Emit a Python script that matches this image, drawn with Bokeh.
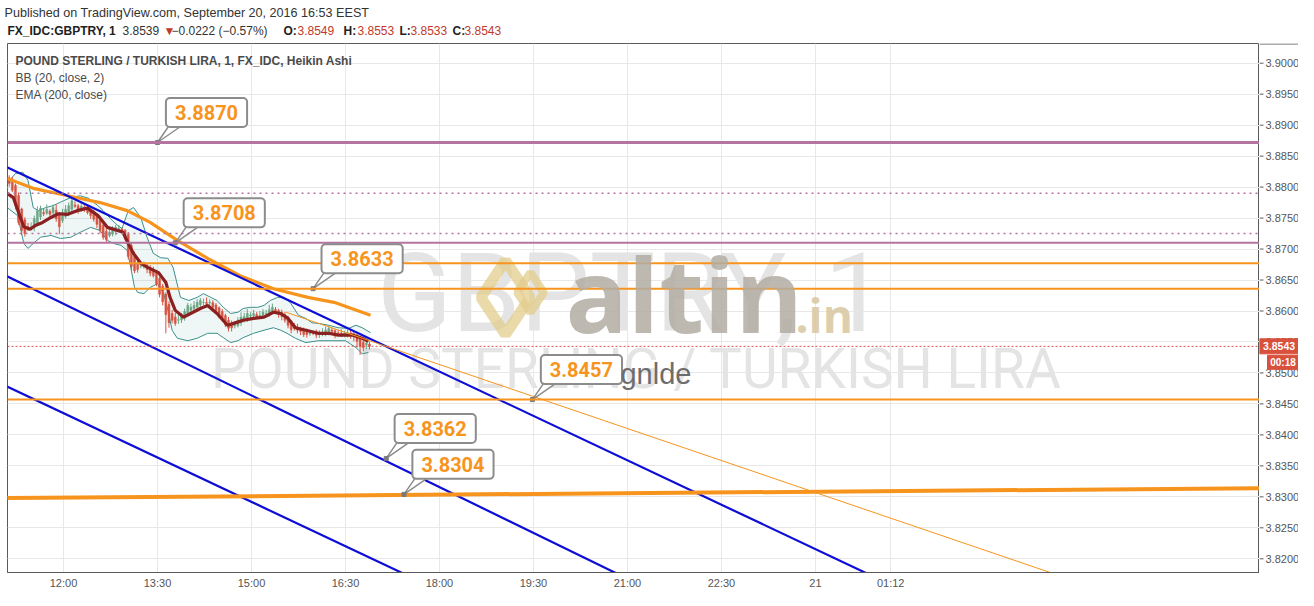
import numpy as np
import pandas as pd
from bokeh.plotting import figure
from bokeh.layouts import column, row
from bokeh.models import (Range1d, FixedTicker, SingleIntervalTicker, Grid, Label, Span)
from bokeh.core.properties import value
from bokeh.embed import file_html
from bokeh.resources import INLINE

DAY0 = pd.Timestamp("2016-09-20 00:00")


def mins(ts):
    return (pd.Timestamp(ts) - DAY0).total_seconds() / 60.0


def hm(s):
    return mins("2016-09-20 " + s)


# ------------------------------------------------------------------ data
candle_start = "2016-09-20 11:08"
candle_step_min = 3
ha_first_open = 3.8815
ha_close = [
    3.8806, 3.8795, 3.8770, 3.8743, 3.8730, 3.8725, 3.8732, 3.8735, 3.8749, 3.8762,
    3.8766, 3.8757, 3.8764, 3.8756, 3.8767, 3.8749, 3.8736, 3.8759, 3.8764, 3.8770,
    3.8778, 3.8769, 3.8762, 3.8769, 3.8764, 3.8759, 3.8754, 3.8748, 3.8740, 3.8730,
    3.8719, 3.8715, 3.8727, 3.8732, 3.8735, 3.8733, 3.8728, 3.8717, 3.8688, 3.8672,
    3.8665, 3.8667, 3.8672, 3.8675, 3.8667, 3.8661, 3.8657, 3.8644, 3.8627, 3.8615,
    3.8594, 3.8581, 3.8585, 3.8580, 3.8586, 3.8591, 3.8599, 3.8609, 3.8606, 3.8609,
    3.8614, 3.8617, 3.8614, 3.8612, 3.8614, 3.8606, 3.8601, 3.8593, 3.8586, 3.8578,
    3.8572, 3.8573, 3.8577, 3.8585, 3.8590, 3.8591, 3.8596, 3.8593, 3.8596, 3.8591,
    3.8593, 3.8598, 3.8596, 3.8602, 3.8606, 3.8599, 3.8594, 3.8591, 3.8585, 3.8577,
    3.8570, 3.8572, 3.8569, 3.8567, 3.8562, 3.8562, 3.8565, 3.8564, 3.8561, 3.8564,
    3.8565, 3.8569, 3.8572, 3.8567, 3.8561, 3.8564, 3.8561, 3.8564, 3.8565, 3.8562,
    3.8559, 3.8551, 3.8543, 3.8541, 3.8548, 3.8543,
]
upper_wick_pips = [
    4, 6, 3, 5, 2, 4, 6, 8, 5, 7,
    4, 6, 8, 3, 5, 9, 4, 6, 7, 5,
    4, 6, 3, 5, 7, 4, 3, 5, 2, 4,
    3, 6, 8, 5, 4, 6, 3, 2, 4, 5,
    7, 4, 6, 5, 3, 4, 6, 2, 3, 4,
    3, 5, 6, 7, 8, 6, 5, 4, 6, 7,
    5, 4, 6, 8, 5, 4, 3, 2, 4, 3,
    5, 6, 7, 5, 8, 6, 7, 5, 6, 4,
    7, 5, 6, 8, 6, 4, 3, 5, 4, 3,
    2, 4, 5, 3, 4, 6, 5, 4, 6, 5,
    7, 6, 5, 4, 3, 5, 6, 4, 5, 6,
    3, 2, 4, 6, 5, 4,
]
lower_wick_pips = [
    5, 3, 6, 4, 7, 5, 3, 4, 6, 3,
    5, 4, 3, 6, 4, 5, 12, 4, 3, 5,
    4, 3, 5, 6, 4, 3, 5, 4, 6, 5,
    4, 5, 3, 4, 6, 5, 4, 3, 5, 6,
    4, 5, 3, 4, 6, 5, 3, 4, 5, 6,
    30, 8, 5, 4, 6, 5, 4, 3, 5, 4,
    6, 5, 4, 3, 5, 6, 4, 5, 3, 4,
    5, 6, 4, 3, 5, 4, 6, 5, 4, 3,
    5, 4, 6, 5, 3, 4, 5, 6, 4, 5,
    6, 4, 5, 6, 4, 5, 4, 3, 5, 6,
    4, 5, 6, 4, 5, 4, 3, 5, 6, 7,
    8, 10, 14, 6, 7, 5,
]

bb_basis_time = ["11:06", "11:12", "11:17", "11:22", "11:28", "11:33", "11:40", "11:48", "11:55", "12:04",
                 "12:13", "12:23", "12:33", "12:42", "12:52", "12:57", "13:02", "13:07", "13:14", "13:21",
                 "13:31", "13:38", "13:42", "13:47", "13:55", "14:04", "14:11", "14:18", "14:27", "14:37",
                 "14:43", "14:52", "15:02", "15:12", "15:21", "15:28", "15:35", "15:42", "15:52", "16:04",
                 "16:14", "16:23", "16:37", "16:46", "16:52"]
bb_basis = [3.8790, 3.8783, 3.8759, 3.8736, 3.8732, 3.8738, 3.8743, 3.8751, 3.8757, 3.8756,
            3.8762, 3.8766, 3.8754, 3.8735, 3.8730, 3.8727, 3.8709, 3.8693, 3.8677, 3.8670,
            3.8662, 3.8646, 3.8622, 3.8601, 3.8590, 3.8598, 3.8604, 3.8609, 3.8596, 3.8577,
            3.8580, 3.8585, 3.8588, 3.8590, 3.8598, 3.8596, 3.8588, 3.8573, 3.8569, 3.8564,
            3.8564, 3.8561, 3.8561, 3.8556, 3.8551]

bb_upper_time = ["11:06", "11:14", "11:21", "11:26", "11:31", "11:36", "11:43", "11:50", "12:00", "12:07",
                 "12:16", "12:24", "12:33", "12:38", "12:45", "12:52", "12:56", "13:02", "13:07", "13:14",
                 "13:20", "13:26", "13:33", "13:40", "13:45", "13:52", "14:00", "14:08", "14:14", "14:21",
                 "14:27", "14:33", "14:40", "14:47", "14:52", "14:59", "15:06", "15:12", "15:18", "15:25",
                 "15:31", "15:37", "15:45", "15:52", "15:58", "16:04", "16:14", "16:23", "16:33", "16:40",
                 "16:46", "16:54"]
bb_upper = [3.8806, 3.8822, 3.8824, 3.8811, 3.8767, 3.8762, 3.8767, 3.8770, 3.8778, 3.8783,
            3.8786, 3.8782, 3.8770, 3.8762, 3.8749, 3.8738, 3.8733, 3.8762, 3.8767, 3.8751,
            3.8719, 3.8693, 3.8686, 3.8685, 3.8670, 3.8622, 3.8617, 3.8622, 3.8628, 3.8622,
            3.8617, 3.8606, 3.8596, 3.8598, 3.8604, 3.8606, 3.8606, 3.8609, 3.8617, 3.8622,
            3.8622, 3.8614, 3.8593, 3.8588, 3.8581, 3.8580, 3.8577, 3.8573, 3.8572, 3.8577,
            3.8573, 3.8565]

bb_lower_time = ["11:06", "11:16", "11:22", "11:26", "11:31", "11:38", "11:48", "11:57", "12:07", "12:16",
                 "12:26", "12:35", "12:42", "12:48", "12:55", "13:01", "13:04", "13:08", "13:11", "13:17",
                 "13:23", "13:30", "13:36", "13:40", "13:44", "13:49", "13:59", "14:08", "14:18", "14:27",
                 "14:33", "14:40", "14:47", "14:52", "15:02", "15:12", "15:21", "15:28", "15:34", "15:42",
                 "15:52", "16:04", "16:18", "16:30", "16:40", "16:46", "16:52"]
bb_lower = [3.8767, 3.8754, 3.8709, 3.8701, 3.8709, 3.8719, 3.8722, 3.8717, 3.8719, 3.8727,
            3.8735, 3.8730, 3.8714, 3.8709, 3.8706, 3.8698, 3.8674, 3.8638, 3.8630, 3.8628,
            3.8638, 3.8644, 3.8628, 3.8601, 3.8569, 3.8556, 3.8552, 3.8556, 3.8564, 3.8564,
            3.8557, 3.8549, 3.8552, 3.8557, 3.8564, 3.8569, 3.8573, 3.8569, 3.8564, 3.8556,
            3.8549, 3.8552, 3.8552, 3.8552, 3.8541, 3.8531, 3.8533]

ema_time = ["11:06", "11:31", "12:04", "12:35", "13:01", "13:23", "13:49", "14:18", "14:49",
            "15:21", "15:54", "16:19", "16:54"]
ema200 = [3.8814, 3.8798, 3.8786, 3.8775, 3.8762, 3.8743, 3.8714, 3.8685, 3.8657,
          3.8636, 3.8622, 3.8614, 3.8593]

# horizontal levels drawn on the chart
level_price = [3.8872, 3.8790, 3.8725, 3.8710, 3.8677, 3.8636, 3.8543, 3.8457]
level_kind = ["purple_thick", "purple_dot", "purple_dot", "purple", "orange", "orange", "last", "orange"]

# trend lines: two anchor points each
trend_t0 = ["2016-09-20 11:06", "2016-09-20 11:06", "2016-09-20 11:06", "2016-09-20 15:33", "2016-09-20 11:06"]
trend_p0 = [3.8832, 3.8656, 3.8478, 3.8598, 3.8298]
trend_t1 = ["2016-09-21 01:01", "2016-09-20 21:01", "2016-09-20 17:37", "2016-09-21 04:02", "2016-09-21 07:09"]
trend_p1 = [3.8167, 3.8167, 3.8167, 3.8168, 3.8314]
trend_kind = ["blue", "blue", "blue", "thin_orange", "thick_orange"]

callout_text = ["3.8870", "3.8708", "3.8633", "3.8457", "3.8362", "3.8304"]
callout_time = ["2016-09-20 13:30", "2016-09-20 13:47", "2016-09-20 15:59",
                "2016-09-20 19:29", "2016-09-20 17:09", "2016-09-20 17:26"]
callout_price = [3.8872, 3.8710, 3.8636, 3.8457, 3.8362, 3.8304]
note_text = "gnlde"

x_tick_time = ["2016-09-20 12:00", "2016-09-20 13:30", "2016-09-20 15:00", "2016-09-20 16:30",
               "2016-09-20 18:00", "2016-09-20 19:30", "2016-09-20 21:00", "2016-09-20 22:30",
               "2016-09-21 00:00", "2016-09-21 01:12"]
x_tick_label = ["12:00", "13:30", "15:00", "16:30", "18:00", "19:30", "21:00", "22:30", "21", "01:12"]
y_tick_label = ["3.8200", "3.8250", "3.8300", "3.8350", "3.8400", "3.8450", "3.8500", "3.8550",
                "3.8600", "3.8650", "3.8700", "3.8750", "3.8800", "3.8850", "3.8900", "3.8950", "3.9000"]

last_price = 3.8543
countdown = "00:18"

header_line1 = "Published on TradingView.com, September 20, 2016 16:53 EEST"
header_symbol = "FX_IDC:GBPTRY, 1"
header_last = "3.8539"
header_change = "\u22120.0222 (\u22120.57%)"
ohlc_keys = ["O:", "H:", "L:", "C:"]
ohlc_vals = ["3.8549", "3.8553", "3.8533", "3.8543"]
legend_lines = ["POUND STERLING / TURKISH LIRA, 1, FX_IDC, Heikin Ashi", "BB (20, close, 2)", "EMA (200, close)"]
watermark_big = "GBPTRY, 1"
watermark_small = "POUND STERLING / TURKISH LIRA"

# ------------------------------------------------------------------ layout
W = 1298
HEAD = 43
FL, FW, FH = 7, 1252, 529
SW = W - FL - FW                            # width of the price-scale strip
MX = 0.9575                                 # minutes per px
MY = 0.00016142                             # price per px
X0 = hm("12:00") - (63 - FL) * MX
X1 = X0 + FW * MX
Y1 = 3.90318
Y0 = Y1 - FH * MY


def px_x(px):
    return X0 + (px - FL) * MX


def px_y(py):
    return Y1 - (py - HEAD) * MY


ORANGE = "#f7941d"
PURPLE = "#b5739f"
BLUE = "#0d0dd6"
UP = "#6ba583"
DN = "#d75442"
AXIS_TXT = "#555555"
AXIS_LINE = "#5a5a5a"
TAG = "#d9503c"
FONT = "Liberation Sans"

yr = Range1d(Y0, Y1)
p = figure(frame_width=FW, frame_height=FH, x_range=Range1d(X0, X1), y_range=yr,
           output_backend="svg", toolbar_location=None, y_axis_location=None,
           min_border_left=FL, min_border_top=0, min_border_right=0, min_border_bottom=0)
p.background_fill_color = "white"
p.border_fill_color = "white"
p.outline_line_color = AXIS_LINE
p.outline_line_width = 1

xt = [int(round(mins(t))) for t in x_tick_time]
p.xaxis.ticker = FixedTicker(ticks=xt)
p.xaxis.major_label_overrides = {k: v for k, v in zip(xt, x_tick_label)}
p.xaxis.major_tick_out = 0
p.xaxis.major_tick_in = 0
p.xaxis.minor_tick_out = 0
p.xaxis.minor_tick_in = 0
p.xaxis.major_label_standoff = 4
p.xaxis.axis_line_color = AXIS_LINE
p.xaxis.major_label_text_font = FONT
p.xaxis.major_label_text_font_size = "11px"
p.xaxis.major_label_text_color = AXIS_TXT
p.xgrid.grid_line_color = "#e8e8e8"
p.add_layout(Grid(dimension=1, ticker=SingleIntervalTicker(interval=0.005, num_minor_ticks=0),
                  grid_line_color="#e8e8e8"))

# ---------------- watermark
p.text(x=[px_x(631)], y=[px_y(293)], text=[watermark_big], text_font=value("Roboto"),
       text_font_size=value("110px"), text_color="#e4e4e4", text_align="center",
       text_baseline="middle")
p.text(x=[px_x(636)], y=[px_y(368)], text=[watermark_small], text_font=value("Roboto"),
       text_font_size=value("55px"), text_color="#e4e4e4", text_align="center",
       text_baseline="middle")

# ---------------- Bollinger bands
ut = [hm(t) for t in bb_upper_time]
lt = [hm(t) for t in bb_lower_time]
p.patch(ut + lt[::-1], bb_upper + bb_lower[::-1], fill_color="#2e9a8e", fill_alpha=0.08, line_alpha=0)
p.line(ut, bb_upper, line_color="#3a8f8a", line_width=1)
p.line(lt, bb_lower, line_color="#3a8f8a", line_width=1)

# ---------------- Heikin Ashi candles
n = len(ha_close)
tc = mins(candle_start) + candle_step_min * np.arange(n)
c = np.array(ha_close)
o = np.empty(n)
o[0] = ha_first_open
for i in range(1, n):
    o[i] = (o[i - 1] + c[i - 1]) / 2.0
hi = np.maximum(o, c) + np.array(upper_wick_pips) * 1e-4
lo = np.minimum(o, c) - np.array(lower_wick_pips) * 1e-4
col = list(np.where(c >= o, UP, DN))
p.segment(tc, lo, tc, hi, line_color=col, line_width=1)
p.vbar(x=tc, width=candle_step_min * 0.62, top=np.maximum(o, c), bottom=np.minimum(o, c),
       fill_color=col, line_color=col, line_width=0.5)

# ---------------- indicators
p.line([hm(t) for t in bb_basis_time], bb_basis, line_color="#8b2020", line_width=3.2)
p.line([hm(t) for t in ema_time], ema200, line_color=ORANGE, line_width=3.2)

# ---------------- horizontal levels
level_style = {
    "purple_thick": dict(line_color=PURPLE, line_width=3),
    "purple": dict(line_color=PURPLE, line_width=2),
    "purple_dot": dict(line_color=PURPLE, line_width=1.5, line_dash="2 4"),
    "orange": dict(line_color=ORANGE, line_width=2),
    "last": dict(line_color="#d9534f", line_width=1, line_dash="2 2"),
}
for lv, kind in zip(level_price, level_kind):
    p.add_layout(Span(location=lv, dimension="width", **level_style[kind]))

# ---------------- trend lines
trend_style = {
    "blue": dict(line_color=BLUE, line_width=2.2),
    "thin_orange": dict(line_color=ORANGE, line_width=1),
    "thick_orange": dict(line_color=ORANGE, line_width=4),
}


def extend(t0, p0, t1, p1, left):
    s = (p1 - p0) / (t1 - t0)
    ta = X0 - 20 if left else t0
    tb = t0 + (Y0 - 0.002 - p0) / s if s < 0 else X1 + 20
    return [ta, tb], [p0 + s * (ta - t0), p0 + s * (tb - t0)]


for a, pa, b, pb, kind in zip(trend_t0, trend_p0, trend_t1, trend_p1, trend_kind):
    xs, ys = extend(mins(a), pa, mins(b), pb, kind != "thin_orange")
    p.line(xs, ys, **trend_style[kind])

# ---------------- callouts
ct = [mins(t) for t in callout_time]
tails_x = [[t, t + 11 * MX, t + 23 * MX] for t in ct]
tails_y = [[v, v + 16 * MY, v + 16 * MY] for v in callout_price]
p.patches(tails_x, tails_y, fill_color="white", line_color="#8c8c8c", line_width=1.5)
p.scatter(ct, callout_price, marker="square", size=4, color="#7a7a7a")
for t, v, txt in zip(ct, callout_price, callout_text):
    p.add_layout(Label(x=t, y=v, text=txt, x_offset=49, y_offset=30, text_align="center",
                       text_baseline="middle", text_font="Roboto", text_font_size="20px",
                       text_font_style="bold", text_color=ORANGE, background_fill_color="white",
                       border_line_color="#8c8c8c", border_line_width=2, padding=(9, 7),
                       border_radius=4))
i457 = callout_text.index("3.8457")
p.add_layout(Label(x=ct[i457], y=callout_price[i457], text=note_text, x_offset=88, y_offset=26,
                   text_align="left", text_baseline="middle", text_font=FONT,
                   text_font_size="29px", text_color="#6d6d6d"))

# ---------------- altin.in logo (overlay)
p.scatter([px_x(505)], [px_y(297)], marker="diamond", size=74, fill_alpha=0,
          line_color="#e3cc8c", line_width=11, line_alpha=0.75)
p.scatter([px_x(530)], [px_y(292)], marker="diamond", size=40, fill_alpha=0,
          line_color="#e3cc8c", line_width=8, line_alpha=0.75)
p.add_layout(Label(x=px_x(565), y=px_y(292), text="altin", text_font="Open Sans",
                   text_font_size="103px", text_font_style="bold", text_color="#b3ada2",
                   text_alpha=0.85, text_baseline="middle"))
p.add_layout(Label(x=px_x(795), y=px_y(314), text=".in", text_font="Open Sans",
                   text_font_size="46px", text_font_style="bold", text_color="#d9c9a2",
                   text_alpha=0.9, text_baseline="middle"))

# ---------------- legend (top-left of pane)
for k, txt in enumerate(legend_lines):
    p.add_layout(Label(x=px_x(15), y=px_y(60 + 17 * k), text=txt, text_font=FONT,
                       text_font_size="12px", text_font_style="bold" if k == 0 else "normal",
                       text_color="#4a4a4a", text_baseline="middle"))

# ---------------- price scale strip (right)
s = figure(frame_width=SW, frame_height=FH, x_range=Range1d(0, SW), y_range=yr,
           output_backend="svg", toolbar_location=None, x_axis_location=None,
           y_axis_location=None, min_border=0)
s.outline_line_color = None
s.background_fill_color = "white"
s.border_fill_color = "white"
s.grid.visible = False
s.add_layout(Span(location=Y1 - 0.5 * MY, dimension="width", line_color=AXIS_LINE, line_width=1))
yv = [float(v) for v in y_tick_label]
s.segment([0] * len(yv), yv, [4] * len(yv), yv, line_color=AXIS_LINE, line_width=1)
s.text(x=[6] * len(yv), y=yv, text=y_tick_label, text_font=value(FONT),
       text_font_size=value("11px"), text_color=AXIS_TXT, text_baseline="middle")
s.quad(left=[0], right=[SW], bottom=[last_price - 7.5 * MY], top=[last_price + 7.5 * MY],
       fill_color=TAG, line_color=TAG)
s.text(x=[SW / 2], y=[last_price], text=[f"{last_price:.4f}"], text_font=value(FONT),
       text_font_size=value("10.5px"), text_font_style="bold", text_color="white",
       text_align="center", text_baseline="middle")
cd_y = last_price - 16 * MY
s.quad(left=[8], right=[SW], bottom=[cd_y - 7 * MY], top=[cd_y + 7 * MY],
       fill_color=TAG, line_color=TAG)
s.text(x=[(8 + SW) / 2], y=[cd_y], text=[countdown], text_font=value(FONT),
       text_font_size=value("10px"), text_font_style="bold", text_color="white",
       text_align="center", text_baseline="middle")

# ---------------- header strip (top)
h = figure(frame_width=W, frame_height=HEAD, x_range=Range1d(0, W), y_range=Range1d(HEAD, 0),
           output_backend="svg", toolbar_location=None, x_axis_location=None,
           y_axis_location=None, min_border=0)
h.outline_line_color = None
h.background_fill_color = "white"
h.border_fill_color = "white"
h.grid.visible = False
h.text(x=[4], y=[12], text=[header_line1], text_font=value(FONT), text_font_size=value("12.6px"),
       text_color="#333333", text_baseline="middle")
runs = [(7, header_symbol, "bold", "#222222"), (122, header_last, "normal", "#333333"),
        (163, "\u25bc", "normal", "#c0392b"), (171, header_change, "normal", "#333333")]
ox = [283, 343, 399, 452]
vx = [297, 357, 410, 464]
for xk, xv, k, v in zip(ox, vx, ohlc_keys, ohlc_vals):
    runs.append((xk, k, "bold", "#222222"))
    runs.append((xv, v, "normal", "#c0392b"))
for xp, txt, st, colr in runs:
    h.text(x=[xp], y=[30], text=[txt], text_font=value(FONT), text_font_size=value("12px"),
           text_font_style=st, text_color=colr, text_baseline="middle")

layout = column(h, row(p, s))
open("out.html", "w").write(file_html(layout, INLINE))
